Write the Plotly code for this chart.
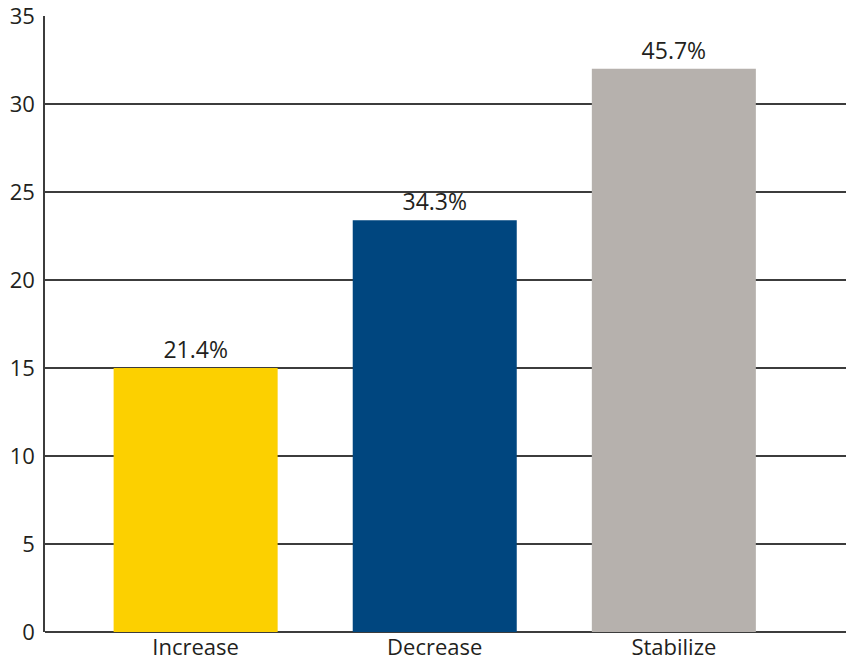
import plotly.graph_objects as go

# Survey outcome counts and their shares of all responses
categories = ["Increase", "Decrease", "Stabilize"]
counts = [15, 23.4, 32]
share_labels = ["21.4%", "34.3%", "45.7%"]
bar_colors = ["#FCD000", "#00467F", "#B6B1AD"]
y_ticks = [0, 5, 10, 15, 20, 25, 30, 35]

FONT = "Open Sans"
INK = "#231F20"
LINE = "#3C3C3C"
SIZE = 22

fig = go.Figure(
    go.Bar(
        x=categories,
        y=counts,
        marker=dict(color=bar_colors, line=dict(width=0)),
        width=0.686,
        text=share_labels,
        textposition="outside",
        cliponaxis=False,
        textfont=dict(family=FONT, size=23, color=INK),
    )
)

fig.update_layout(
    width=847,
    height=662,
    margin=dict(l=45, r=1, t=16, b=30, autoexpand=False),
    paper_bgcolor="white",
    plot_bgcolor="white",
    showlegend=False,
    font=dict(family=FONT, size=SIZE, color=INK),
)

fig.update_xaxes(
    type="category",
    range=[-0.63, 2.72],
    automargin=False,
    showgrid=False,
    showline=False,
    ticks="",
    ticklabelstandoff=0,
    ticklabeloverflow="allow",
    tickfont=dict(family=FONT, size=SIZE, color=INK),
)

fig.update_yaxes(
    range=[0, 35],
    tickvals=y_ticks,
    automargin=False,
    showgrid=True,
    gridcolor=LINE,
    gridwidth=1.5,
    zeroline=True,
    zerolinecolor=LINE,
    zerolinewidth=2,
    showline=True,
    linecolor=LINE,
    linewidth=1.5,
    ticks="",
    ticklabelstandoff=4,
    ticklabeloverflow="allow",
    tickfont=dict(family=FONT, size=SIZE, color=INK),
)

fig.write_html("out.html")
